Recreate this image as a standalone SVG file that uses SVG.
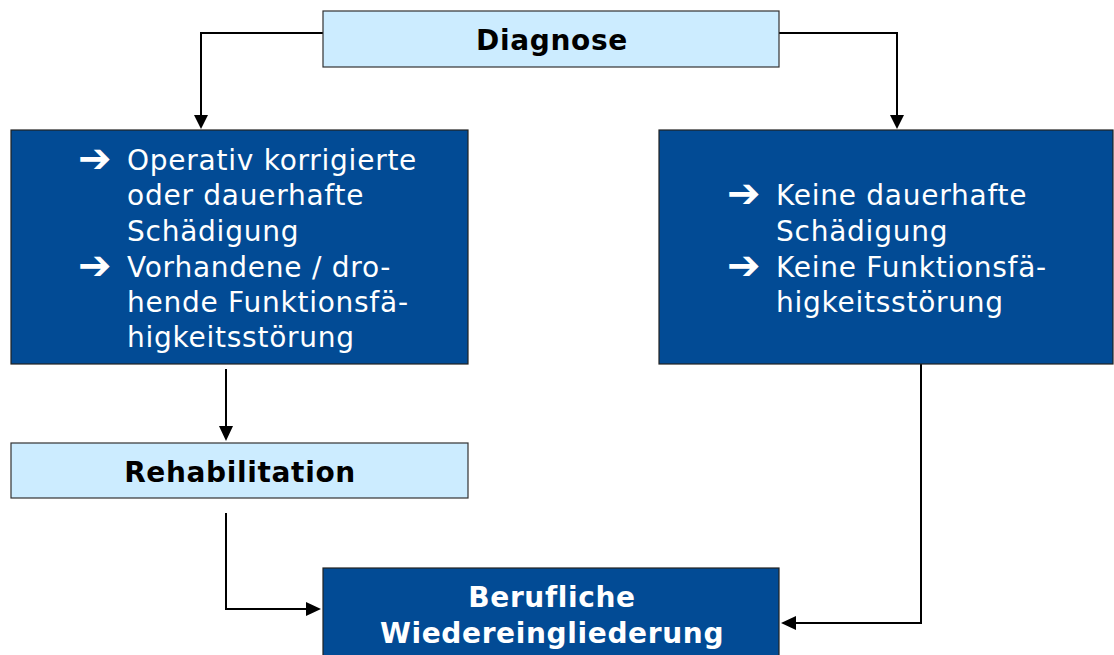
<svg xmlns="http://www.w3.org/2000/svg" width="1114" height="655" viewBox="0 0 1114 655">
  <style>
    .light { fill: #ccecff; stroke: #333; stroke-width: 1.2; }
    .dark { fill: #024b95; stroke: #222; stroke-width: 1.2; }
    .head { font-family: "DejaVu Sans", Verdana, sans-serif; font-weight: bold; font-size: 28px; letter-spacing: 0.65px; text-anchor: middle; }
    .body { font-family: "DejaVu Sans", Verdana, sans-serif; font-size: 28px; letter-spacing: 0.75px; fill: #fff; }
    .bullet { font-family: "DejaVu Sans", sans-serif; font-size: 40px; fill: #fff; font-weight: bold; }
    .wire { fill: none; stroke: #000; stroke-width: 2; }
  </style>
  <rect width="1114" height="655" fill="#fff"/>

  <g id="connectors">
    <path class="wire" d="M323,33 H201 V116"/>
    <polygon points="194,115 208,115 201,129" fill="#000"/>
    <path class="wire" d="M779,33 H897 V116"/>
    <polygon points="890,115 904,115 897,129" fill="#000"/>
    <path class="wire" d="M226,369 V428"/>
    <polygon points="219,426 233,426 226,441" fill="#000"/>
    <path class="wire" d="M226,513 V609 H308"/>
    <polygon points="306,602 306,616 321,609" fill="#000"/>
    <path class="wire" d="M921,357 V623 H794"/>
    <polygon points="796,616 796,630 781,623" fill="#000"/>
  </g>

  <g id="diagnose">
    <rect class="light" x="323" y="11" width="456" height="56"/>
    <text class="head" x="552" y="50">Diagnose</text>
  </g>

  <g id="schaedigung">
    <rect class="dark" x="11" y="130" width="457" height="234"/>
    <text class="bullet" x="78" y="172">➔</text>
    <text class="body" x="127" y="170">Operativ korrigierte</text>
    <text class="body" x="127" y="205">oder dauerhafte</text>
    <text class="body" x="127" y="241">Schädigung</text>
    <text class="bullet" x="78" y="279">➔</text>
    <text class="body" x="127" y="277">Vorhandene / dro-</text>
    <text class="body" x="127" y="312">hende Funktionsfä-</text>
    <text class="body" x="127" y="347">higkeitsstörung</text>
  </g>

  <g id="keine-schaedigung">
    <rect class="dark" x="659" y="130" width="454" height="234"/>
    <text class="bullet" x="727" y="207">➔</text>
    <text class="body" x="776" y="205">Keine dauerhafte</text>
    <text class="body" x="776" y="241">Schädigung</text>
    <text class="bullet" x="727" y="279">➔</text>
    <text class="body" x="776" y="277">Keine Funktionsfä-</text>
    <text class="body" x="776" y="312">higkeitsstörung</text>
  </g>

  <g id="rehabilitation">
    <rect class="light" x="11" y="443" width="457" height="55"/>
    <text class="head" x="240" y="482">Rehabilitation</text>
  </g>

  <g id="wiedereingliederung">
    <rect class="dark" x="323" y="568" width="456" height="95"/>
    <text class="head" x="552" y="607" fill="#fff">Berufliche</text>
    <text class="head" x="552" y="643" fill="#fff">Wiedereingliederung</text>
  </g>
</svg>
